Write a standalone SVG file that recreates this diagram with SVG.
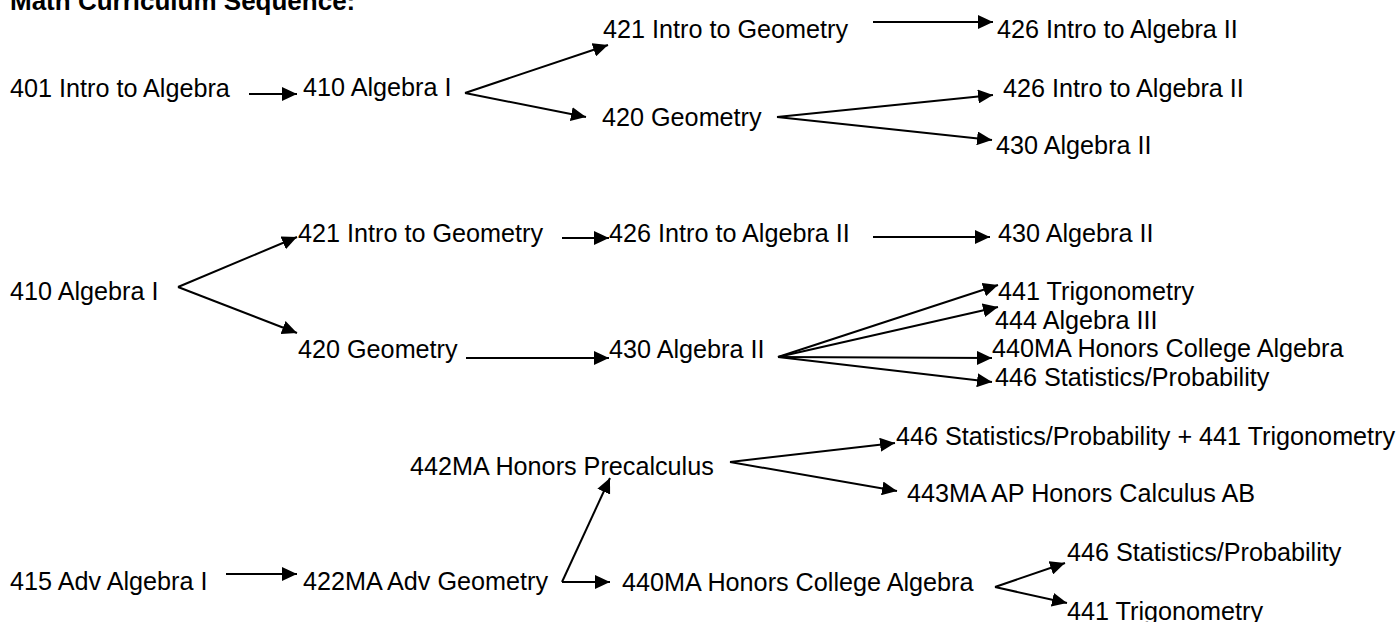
<svg xmlns="http://www.w3.org/2000/svg" width="1400" height="622" viewBox="0 0 1400 622">
<style>
text{font-family:"Liberation Sans",Arial,sans-serif;font-size:25.2px;fill:#000}
.title{font-weight:bold;font-size:26px}
.c line{stroke:#000;stroke-width:2;marker-end:url(#ah)}
</style>
<defs>
<marker id="ah" viewBox="0 0 15 14" refX="15" refY="7" markerWidth="15" markerHeight="14" markerUnits="userSpaceOnUse" orient="auto">
<path d="M0,0 L15,7 L0,14 z" fill="#000"/>
</marker>
</defs>
<rect width="1400" height="622" fill="#fff"/>
<text class="title" x="10" y="10">Math Curriculum Sequence:</text>
<g id="n401"><text x="10" y="97">401 Intro to Algebra</text></g>
<g id="n410a"><text x="303" y="96">410 Algebra I</text></g>
<g id="n421a"><text x="603" y="38">421 Intro to Geometry</text></g>
<g id="n426a"><text x="997" y="38">426 Intro to Algebra II</text></g>
<g id="n420a"><text x="602" y="126">420 Geometry</text></g>
<g id="n426b"><text x="1003" y="97">426 Intro to Algebra II</text></g>
<g id="n430a"><text x="996" y="154">430 Algebra II</text></g>
<g id="n410b"><text x="10" y="300">410 Algebra I</text></g>
<g id="n421b"><text x="298" y="242">421 Intro to Geometry</text></g>
<g id="n426c"><text x="609" y="242">426 Intro to Algebra II</text></g>
<g id="n430b"><text x="998" y="242">430 Algebra II</text></g>
<g id="n420b"><text x="298" y="358">420 Geometry</text></g>
<g id="n430c"><text x="609" y="358">430 Algebra II</text></g>
<g id="n441a"><text x="998" y="300">441 Trigonometry</text></g>
<g id="n444"><text x="995" y="329">444 Algebra III</text></g>
<g id="n440a"><text x="992" y="357">440MA Honors College Algebra</text></g>
<g id="n446a"><text x="995" y="386">446 Statistics/Probability</text></g>
<g id="n442"><text x="410" y="475">442MA Honors Precalculus</text></g>
<g id="n446b"><text x="896" y="445">446 Statistics/Probability + 441 Trigonometry</text></g>
<g id="n443"><text x="907" y="502">443MA AP Honors Calculus AB</text></g>
<g id="n415"><text x="10" y="590">415 Adv Algebra I</text></g>
<g id="n422"><text x="303" y="590">422MA Adv Geometry</text></g>
<g id="n440b"><text x="622" y="591">440MA Honors College Algebra</text></g>
<g id="n446c"><text x="1067" y="561">446 Statistics/Probability</text></g>
<g id="n441b"><text x="1067" y="620">441 Trigonometry</text></g>
<g id="connectors" class="c">
<line x1="249" y1="94" x2="297" y2="94"/>
<line x1="465" y1="93" x2="608" y2="45"/>
<line x1="465" y1="93" x2="586" y2="117"/>
<line x1="873" y1="22" x2="993" y2="22"/>
<line x1="777" y1="117" x2="993" y2="95"/>
<line x1="777" y1="117" x2="992" y2="140"/>
<line x1="178" y1="287" x2="297" y2="237"/>
<line x1="178" y1="287" x2="297" y2="333"/>
<line x1="562" y1="238" x2="609" y2="238"/>
<line x1="873" y1="237" x2="990" y2="237"/>
<line x1="466" y1="358" x2="609" y2="358"/>
<line x1="778" y1="357" x2="998" y2="285"/>
<line x1="778" y1="357" x2="998" y2="307"/>
<line x1="778" y1="357" x2="992" y2="358"/>
<line x1="778" y1="357" x2="992" y2="382"/>
<line x1="730" y1="462" x2="895" y2="443"/>
<line x1="730" y1="462" x2="897" y2="491"/>
<line x1="226" y1="574" x2="297" y2="574"/>
<line x1="562" y1="582" x2="610" y2="478"/>
<line x1="562" y1="582" x2="610" y2="582"/>
<line x1="995" y1="587" x2="1065" y2="563"/>
<line x1="995" y1="587" x2="1067" y2="603"/>
</g>
</svg>
